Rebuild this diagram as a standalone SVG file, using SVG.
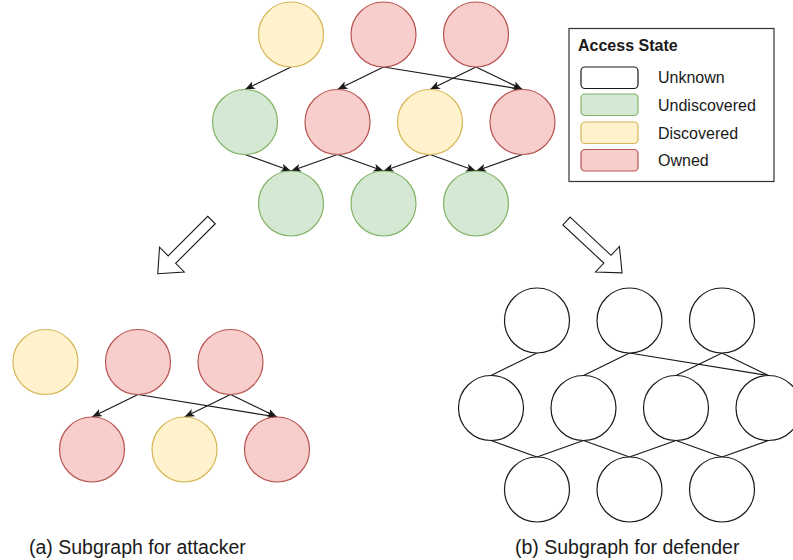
<svg xmlns="http://www.w3.org/2000/svg" width="793" height="560" viewBox="0 0 793 560">
  <defs>
    <style>
      text { font-family: "Liberation Sans", Arial, sans-serif; fill: #1a1a1a; }
      .n { stroke-width: 1.2; }
      .green { fill: #d5e8d4; stroke: #82b366; }
      .yellow { fill: #fff2cc; stroke: #d6b656; }
      .red { fill: #f8cecc; stroke: #b85450; }
      .unknown { fill: #ffffff; stroke: #1a1a1a; }
      .edge { fill: none; stroke: #1a1a1a; stroke-width: 1.2; }
      .arrowed { marker-end: url(#tip); }
      .hollow { fill: #ffffff; stroke: #1a1a1a; stroke-width: 1.1; stroke-linejoin: miter; }
      .legend-box { fill: #ffffff; stroke: #333333; stroke-width: 1.2; }
      .legend-label { font-size: 16px; }
      .legend-title { font-size: 16px; font-weight: bold; }
      .caption { font-size: 19.5px; }
    </style>
    <marker id="tip" markerWidth="11" markerHeight="9" refX="10" refY="4" orient="auto" markerUnits="userSpaceOnUse">
      <path d="M0,0 L10,4 L0,8 L2.5,4 Z" fill="#1a1a1a"/>
    </marker>
    <!-- block arrow pointing along +x, origin at the tail -->
    <polygon id="bigArrow" class="hollow" points="0,-5.3 56,-5.3 56,-17.5 76,0 56,17.5 56,5.3 0,5.3"/>
  </defs>

  <!-- connectors -->
  <g id="connectors">
    <!-- full network -->
    <line class="edge arrowed" x1="291" y1="67" x2="245" y2="89.5"/>
    <line class="edge arrowed" x1="383.5" y1="67" x2="337.5" y2="89.5"/>
    <line class="edge arrowed" x1="383.5" y1="67" x2="522.5" y2="89.5"/>
    <line class="edge arrowed" x1="476" y1="67" x2="430" y2="89.5"/>
    <line class="edge arrowed" x1="476" y1="67" x2="522.5" y2="89.5"/>
    <line class="edge arrowed" x1="245" y1="154.5" x2="291" y2="171"/>
    <line class="edge arrowed" x1="337.5" y1="154.5" x2="291" y2="171"/>
    <line class="edge arrowed" x1="337.5" y1="154.5" x2="383.5" y2="171"/>
    <line class="edge arrowed" x1="430" y1="154.5" x2="383.5" y2="171"/>
    <line class="edge arrowed" x1="430" y1="154.5" x2="476" y2="171"/>
    <line class="edge arrowed" x1="522.5" y1="154.5" x2="476" y2="171"/>

    <!-- attacker view -->
    <line class="edge arrowed" x1="138" y1="394.5" x2="92" y2="417"/>
    <line class="edge arrowed" x1="138" y1="394.5" x2="277" y2="417"/>
    <line class="edge arrowed" x1="230.5" y1="394.5" x2="184.5" y2="417"/>
    <line class="edge arrowed" x1="230.5" y1="394.5" x2="277" y2="417"/>

    <!-- defender view -->
    <line class="edge" x1="537" y1="353" x2="491" y2="375.5"/>
    <line class="edge" x1="629.5" y1="353" x2="583.5" y2="375.5"/>
    <line class="edge" x1="629.5" y1="353" x2="768.5" y2="375.5"/>
    <line class="edge" x1="722" y1="353" x2="676" y2="375.5"/>
    <line class="edge" x1="722" y1="353" x2="768.5" y2="375.5"/>
    <line class="edge" x1="491" y1="440.5" x2="537" y2="457"/>
    <line class="edge" x1="583.5" y1="440.5" x2="537" y2="457"/>
    <line class="edge" x1="583.5" y1="440.5" x2="629.5" y2="457"/>
    <line class="edge" x1="676" y1="440.5" x2="629.5" y2="457"/>
    <line class="edge" x1="676" y1="440.5" x2="722" y2="457"/>
    <line class="edge" x1="768.5" y1="440.5" x2="722" y2="457"/>

    <!-- projection arrows -->
    <use href="#bigArrow" transform="translate(211.5,220) rotate(135)"/>
    <use href="#bigArrow" transform="translate(566.5,221) rotate(43)"/>
  </g>

  <!-- full network nodes -->
  <g id="full-t1"><circle class="n yellow" cx="291" cy="34.5" r="32.5"/></g>
  <g id="full-t2"><circle class="n red" cx="383.5" cy="34.5" r="32.5"/></g>
  <g id="full-t3"><circle class="n red" cx="476" cy="34.5" r="32.5"/></g>
  <g id="full-m1"><circle class="n green" cx="245" cy="122" r="32.5"/></g>
  <g id="full-m2"><circle class="n red" cx="337.5" cy="122" r="32.5"/></g>
  <g id="full-m3"><circle class="n yellow" cx="430" cy="122" r="32.5"/></g>
  <g id="full-m4"><circle class="n red" cx="522.5" cy="122" r="32.5"/></g>
  <g id="full-b1"><circle class="n green" cx="291" cy="203.5" r="32.5"/></g>
  <g id="full-b2"><circle class="n green" cx="383.5" cy="203.5" r="32.5"/></g>
  <g id="full-b3"><circle class="n green" cx="476" cy="203.5" r="32.5"/></g>

  <!-- attacker view nodes -->
  <g id="atk-t1"><circle class="n yellow" cx="45.5" cy="362" r="32.5"/></g>
  <g id="atk-t2"><circle class="n red" cx="138" cy="362" r="32.5"/></g>
  <g id="atk-t3"><circle class="n red" cx="230.5" cy="362" r="32.5"/></g>
  <g id="atk-m2"><circle class="n red" cx="92" cy="449.5" r="32.5"/></g>
  <g id="atk-m3"><circle class="n yellow" cx="184.5" cy="449.5" r="32.5"/></g>
  <g id="atk-m4"><circle class="n red" cx="277" cy="449.5" r="32.5"/></g>

  <!-- defender view nodes -->
  <g id="def-t1"><circle class="n unknown" cx="537" cy="320.5" r="32.5"/></g>
  <g id="def-t2"><circle class="n unknown" cx="629.5" cy="320.5" r="32.5"/></g>
  <g id="def-t3"><circle class="n unknown" cx="722" cy="320.5" r="32.5"/></g>
  <g id="def-m1"><circle class="n unknown" cx="491" cy="408" r="32.5"/></g>
  <g id="def-m2"><circle class="n unknown" cx="583.5" cy="408" r="32.5"/></g>
  <g id="def-m3"><circle class="n unknown" cx="676" cy="408" r="32.5"/></g>
  <g id="def-m4"><circle class="n unknown" cx="768.5" cy="408" r="32.5"/></g>
  <g id="def-b1"><circle class="n unknown" cx="537" cy="489.5" r="32.5"/></g>
  <g id="def-b2"><circle class="n unknown" cx="629.5" cy="489.5" r="32.5"/></g>
  <g id="def-b3"><circle class="n unknown" cx="722" cy="489.5" r="32.5"/></g>

  <!-- legend -->
  <g id="legend">
    <rect class="legend-box" x="569" y="28.5" width="205" height="153"/>
    <text class="legend-title" x="578" y="51">Access State</text>
    <rect class="n unknown" x="581" y="67" width="57" height="21.5" rx="4"/>
    <rect class="n green" x="581" y="94" width="57" height="21.5" rx="4"/>
    <rect class="n yellow" x="581" y="122" width="57" height="21.5" rx="4"/>
    <rect class="n red" x="581" y="149.5" width="57" height="21.5" rx="4"/>
    <text class="legend-label" x="658" y="83">Unknown</text>
    <text class="legend-label" x="658" y="111">Undiscovered</text>
    <text class="legend-label" x="658" y="139">Discovered</text>
    <text class="legend-label" x="658" y="166">Owned</text>
  </g>

  <!-- captions -->
  <g id="caption-a"><text class="caption" x="29" y="554">(a) Subgraph for attacker</text></g>
  <g id="caption-b"><text class="caption" x="515" y="554">(b) Subgraph for defender</text></g>
</svg>
